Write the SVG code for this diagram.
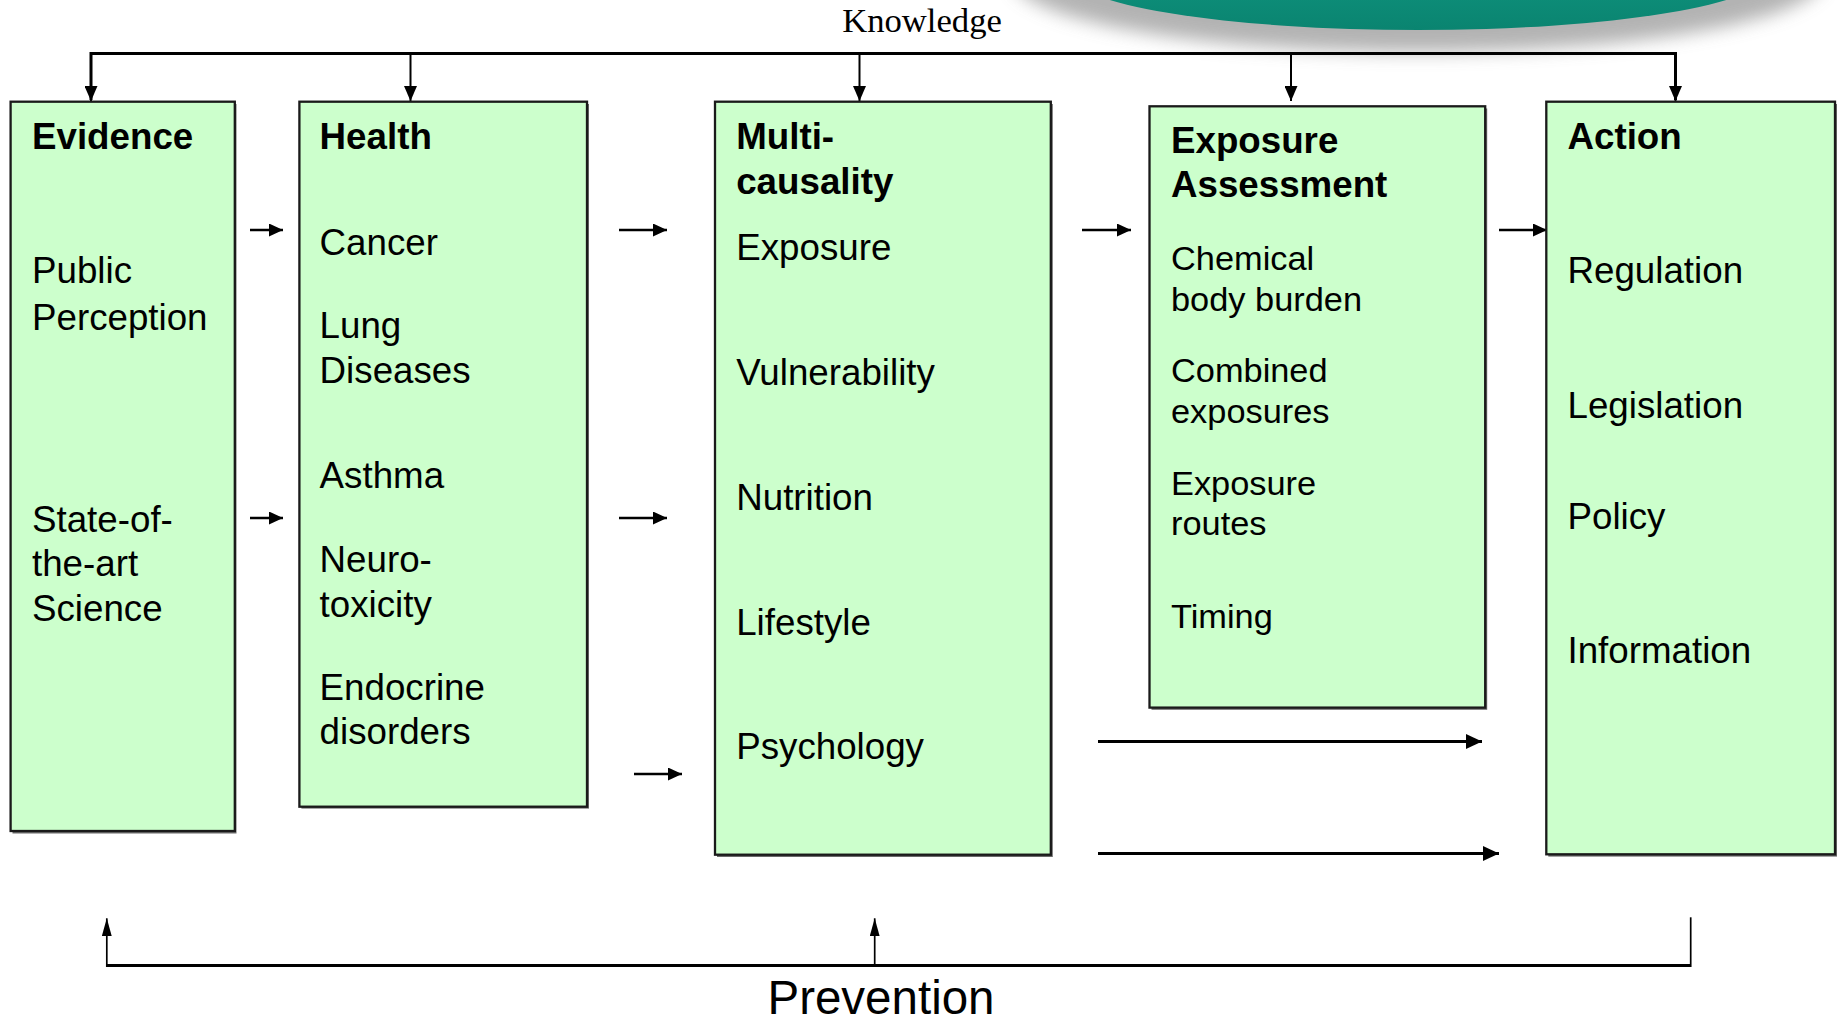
<svg xmlns="http://www.w3.org/2000/svg" width="1841" height="1025" viewBox="0 0 1841 1025">
<style>
.box{fill:#CCFFCC;stroke:#1a1a1a;stroke-width:2.3}
.shadow{fill:#6a6a6a}
.t{font-family:"Liberation Sans",Arial,sans-serif;font-size:36px;fill:#000}
.tb{font-family:"Liberation Sans",Arial,sans-serif;font-size:36px;font-weight:bold;fill:#000}
.ts{font-family:"Liberation Sans",Arial,sans-serif;font-size:33.7px;fill:#000}
.serif{font-family:"Liberation Serif","Times New Roman",serif;font-size:33px;fill:#000}
.big{font-family:"Liberation Sans",Arial,sans-serif;font-size:47.5px;fill:#000}
.ln{fill:none;stroke:#000}
</style>
<defs>
<marker id="arrowR" markerUnits="userSpaceOnUse" markerWidth="14" markerHeight="13" refX="14" refY="6.5" orient="auto"><path d="M0,0 L14,6.5 L0,13 z" fill="#000"/></marker>
<marker id="arrowL" markerUnits="userSpaceOnUse" markerWidth="16" markerHeight="15" refX="16" refY="7.5" orient="auto"><path d="M0,0 L16,7.5 L0,15 z" fill="#000"/></marker>
<marker id="arrowD" markerUnits="userSpaceOnUse" markerWidth="15" markerHeight="13" refX="15" refY="6.5" orient="auto"><path d="M0,0 L15,6.5 L0,13 z" fill="#000"/></marker>
<marker id="arrowU" markerUnits="userSpaceOnUse" markerWidth="18" markerHeight="10" refX="18" refY="5" orient="auto"><path d="M0,0 L18,5 L0,10 z" fill="#000"/></marker>
<filter id="blur" x="-20%" y="-50%" width="140%" height="200%"><feGaussianBlur stdDeviation="9"/></filter>
<linearGradient id="teal" x1="0" y1="0" x2="0" y2="1"><stop offset="0" stop-color="#13a08a"/><stop offset="1" stop-color="#0a8470"/></linearGradient>
</defs>

<g id="logo-arc">
<ellipse cx="1418" cy="-22" rx="405" ry="74" fill="#9a9a9a" opacity="0.75" filter="url(#blur)"/>
<ellipse cx="1418" cy="-27" rx="350" ry="57" fill="url(#teal)"/>
</g>

<text class="serif" transform="translate(922 32) scale(1.05 1)" text-anchor="middle">Knowledge</text>

<g id="connectors">
<polyline class="ln" stroke-width="3" points="91,100 91,53.5 1675.5,53.5 1675.5,100"/>
<line class="ln" stroke-width="2" x1="91" y1="53.5" x2="91" y2="101" marker-end="url(#arrowD)"/>
<line class="ln" stroke-width="2" x1="410.5" y1="53.5" x2="410.5" y2="101" marker-end="url(#arrowD)"/>
<line class="ln" stroke-width="2" x1="859.5" y1="53.5" x2="859.5" y2="101" marker-end="url(#arrowD)"/>
<line class="ln" stroke-width="2" x1="1291" y1="53.5" x2="1291" y2="101" marker-end="url(#arrowD)"/>
<line class="ln" stroke-width="2" x1="1675.5" y1="53.5" x2="1675.5" y2="101" marker-end="url(#arrowD)"/>

<line class="ln" stroke-width="2.5" x1="250" y1="230" x2="283" y2="230" marker-end="url(#arrowR)"/>
<line class="ln" stroke-width="2.5" x1="250" y1="518" x2="283" y2="518" marker-end="url(#arrowR)"/>
<line class="ln" stroke-width="2.5" x1="619" y1="230" x2="667" y2="230" marker-end="url(#arrowR)"/>
<line class="ln" stroke-width="2.5" x1="619" y1="518" x2="667" y2="518" marker-end="url(#arrowR)"/>
<line class="ln" stroke-width="2.5" x1="634" y1="774" x2="682" y2="774" marker-end="url(#arrowR)"/>
<line class="ln" stroke-width="2.5" x1="1082" y1="230" x2="1131" y2="230" marker-end="url(#arrowR)"/>
<line class="ln" stroke-width="2.5" x1="1499" y1="230" x2="1547" y2="230" marker-end="url(#arrowR)"/>
<line class="ln" stroke-width="3" x1="1098" y1="741.5" x2="1482" y2="741.5" marker-end="url(#arrowL)"/>
<line class="ln" stroke-width="3" x1="1098" y1="853.5" x2="1499" y2="853.5" marker-end="url(#arrowL)"/>

<polyline class="ln" stroke-width="3" points="106.8,965.5 1690.7,965.5"/>
<line class="ln" stroke-width="1.7" x1="1690.7" y1="967" x2="1690.7" y2="917.3"/>
<line class="ln" stroke-width="1.7" x1="106.8" y1="967" x2="106.8" y2="918.3" marker-end="url(#arrowU)"/>
<line class="ln" stroke-width="1.7" x1="874.7" y1="965.5" x2="874.7" y2="918.3" marker-end="url(#arrowU)"/>
</g>

<text class="big" x="881" y="1014" text-anchor="middle">Prevention</text>

<g id="evidence">
<rect class="shadow" x="12.5" y="104" width="224" height="729.5"/>
<rect class="box" x="10.6" y="101.7" width="224.2" height="729.3"/>
<g transform="translate(32 0) scale(1.02 1)">
<text class="tb" x="0" y="149">Evidence</text>
<text class="t" x="0" y="283.5">Public</text>
<text class="t" x="0" y="330">Perception</text>
<text class="t" x="0" y="532">State-of-</text>
<text class="t" x="0" y="576.5">the-art</text>
<text class="t" x="0" y="621">Science</text>
</g>
</g>

<g id="health">
<rect class="shadow" x="301.4" y="104" width="287.6" height="704.6"/>
<rect class="box" x="299.4" y="101.7" width="287.6" height="705"/>
<g transform="translate(319.6 0) scale(1.02 1)">
<text class="tb" x="0" y="149">Health</text>
<text class="t" x="0" y="255">Cancer</text>
<text class="t" x="0" y="338.5">Lung</text>
<text class="t" x="0" y="383">Diseases</text>
<text class="t" x="0" y="488.5">Asthma</text>
<text class="t" x="0" y="572">Neuro-</text>
<text class="t" x="0" y="617.5">toxicity</text>
<text class="t" x="0" y="700">Endocrine</text>
<text class="t" x="0" y="744.5">disorders</text>
</g>
</g>

<g id="multicausality">
<rect class="shadow" x="717" y="104" width="335.8" height="753"/>
<rect class="box" x="715" y="101.7" width="335.8" height="753"/>
<g transform="translate(736.2 0) scale(1.02 1)">
<text class="tb" x="0" y="149">Multi-</text>
<text class="tb" x="0" y="194">causality</text>
<text class="t" x="0" y="260.5">Exposure</text>
<text class="t" x="0" y="385.5">Vulnerability</text>
<text class="t" x="0" y="510.5">Nutrition</text>
<text class="t" x="0" y="635">Lifestyle</text>
<text class="t" x="0" y="759.5">Psychology</text>
</g>
</g>

<g id="exposure-assessment">
<rect class="shadow" x="1151.5" y="108.5" width="335.7" height="601.3"/>
<rect class="box" x="1149.5" y="106.3" width="335.7" height="601.3"/>
<g transform="translate(1171 0) scale(1.02 1)">
<text class="tb" x="0" y="153">Exposure</text>
<text class="tb" x="0" y="197.5">Assessment</text>
<text class="ts" x="0" y="270">Chemical</text>
<text class="ts" x="0" y="311">body burden</text>
<text class="ts" x="0" y="382">Combined</text>
<text class="ts" x="0" y="423">exposures</text>
<text class="ts" x="0" y="495">Exposure</text>
<text class="ts" x="0" y="535.5">routes</text>
<text class="ts" x="0" y="628">Timing</text>
</g>
</g>

<g id="action">
<rect class="shadow" x="1548.3" y="104" width="288.7" height="752.6"/>
<rect class="box" x="1546.3" y="101.7" width="288.7" height="752.6"/>
<g transform="translate(1567.5 0) scale(1.02 1)">
<text class="tb" x="0" y="149">Action</text>
<text class="t" x="0" y="283.5">Regulation</text>
<text class="t" x="0" y="418">Legislation</text>
<text class="t" x="0" y="529">Policy</text>
<text class="t" x="0" y="663.5">Information</text>
</g>
</g>
</svg>
